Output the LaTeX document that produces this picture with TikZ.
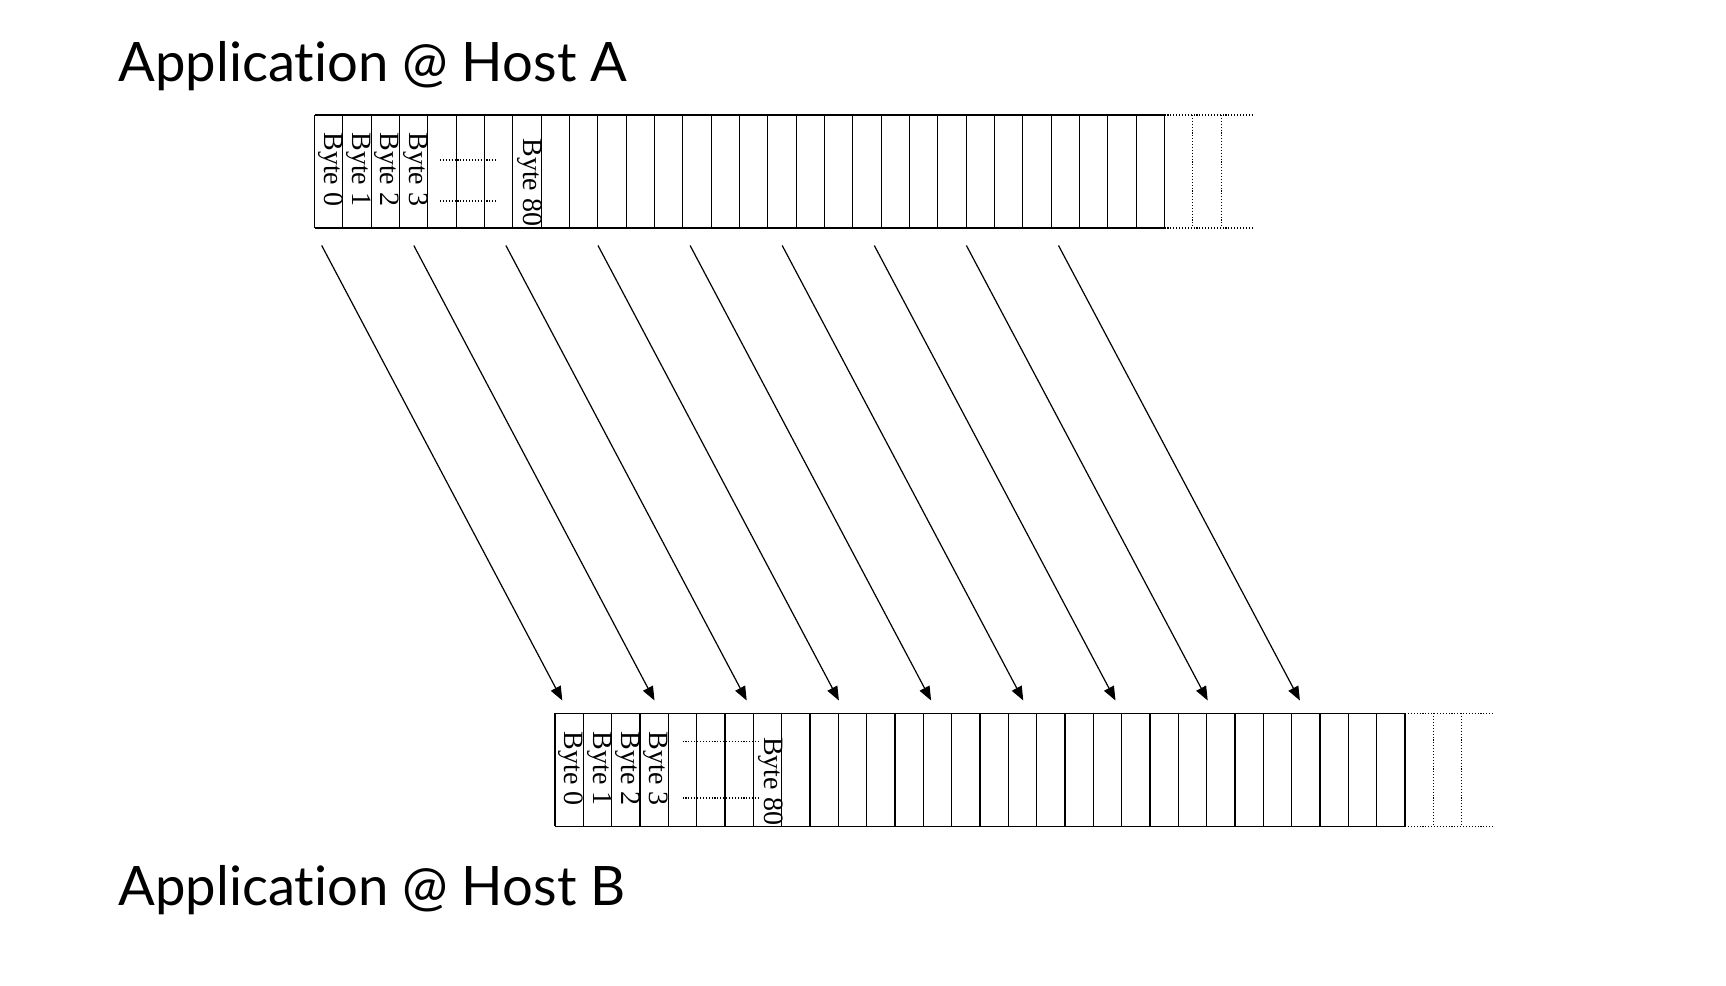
\documentclass[tikz,border=0pt]{standalone}
\usepackage{fontspec}
\setmainfont{Liberation Serif}
\newfontfamily\titlefont[Ligatures=NoCommon]{Lato}
\usetikzlibrary{arrows.meta}
\begin{document}
\begin{tikzpicture}[x=0.5pt,y=-0.5pt,
  cellline/.style={line width=0.55pt},
  dotline/.style={line width=0.55pt, dash pattern=on 0.55pt off 0.9pt},
  bytelabel/.style={rotate=-90, anchor=west, inner sep=0pt, font=\fontsize{14}{14}\selectfont},
  hosttitle/.style={anchor=base west, inner sep=0pt, font=\titlefont\fontsize{27.2}{27.2}\selectfont},
  xfer/.style={line width=0.6pt, -{Triangle[length=7pt,width=5.5pt]}}]
\useasboundingbox (0,0) rectangle (1726,986);

\node[hosttitle] (titleA) at (118,81.7) {Application @ Host A};
\node[hosttitle] (titleB) at (118,905) {Application @ Host B};

% sender buffer
\begin{scope}[shift={(314.5,115)}]
  \draw[cellline] (0,0) -- (850,0);
  \draw[cellline] (0,113) -- (850,113);
  \foreach \i in {0,...,30} \draw[cellline] (\i*28.333,0) -- (\i*28.333,113);
  \draw[line width=0.8pt] (0,0) -- (0,113);
  \draw[dotline] (850,0) -- (939,0);
  \draw[dotline] (850,113) -- (939,113);
  \draw[dotline] (878.33,0) -- (878.33,113);
  \draw[dotline] (906.67,0) -- (906.67,113);
  \foreach \i in {0,...,3} \node[bytelabel] (a\i) at (\i*28.333+16,17) {Byte \i};
  \node[bytelabel] (a80) at (7*28.333+17,23) {Byte 80};
  \draw[dotline] (125.5,45) -- (182,45);
  \draw[dotline] (125.5,86) -- (182,86);
\end{scope}

% receiver buffer
\begin{scope}[shift={(555,713.3)}]
  \draw[cellline] (0,0) -- (850,0);
  \draw[cellline] (0,113) -- (850,113);
  \foreach \i in {0,...,30} \draw[cellline] (\i*28.333,0) -- (\i*28.333,113);
  \draw[dotline] (850,0) -- (939,0);
  \draw[dotline] (850,113) -- (939,113);
  \draw[dotline] (878.33,0) -- (878.33,113);
  \draw[dotline] (906.67,0) -- (906.67,113);
  \foreach \i in {0,...,3} \node[bytelabel] (b\i) at (\i*28.333+16,18) {Byte \i};
  \node[bytelabel] (b80) at (7*28.333+17,23.5) {Byte 80};
  \draw[dotline] (127.5,28.4) -- (203,28.4);
  \draw[dotline] (127.5,84.7) -- (203,84.7);
\end{scope}

% transfer arrows
\foreach \i in {0,...,8}{
  \coordinate (s\i) at (321.7+92.1*\i,245.5);
  \coordinate (e\i) at (562.3+92.2*\i,700.5);
  \draw[xfer] (s\i) -- (e\i);
}
\end{tikzpicture}
\end{document}
